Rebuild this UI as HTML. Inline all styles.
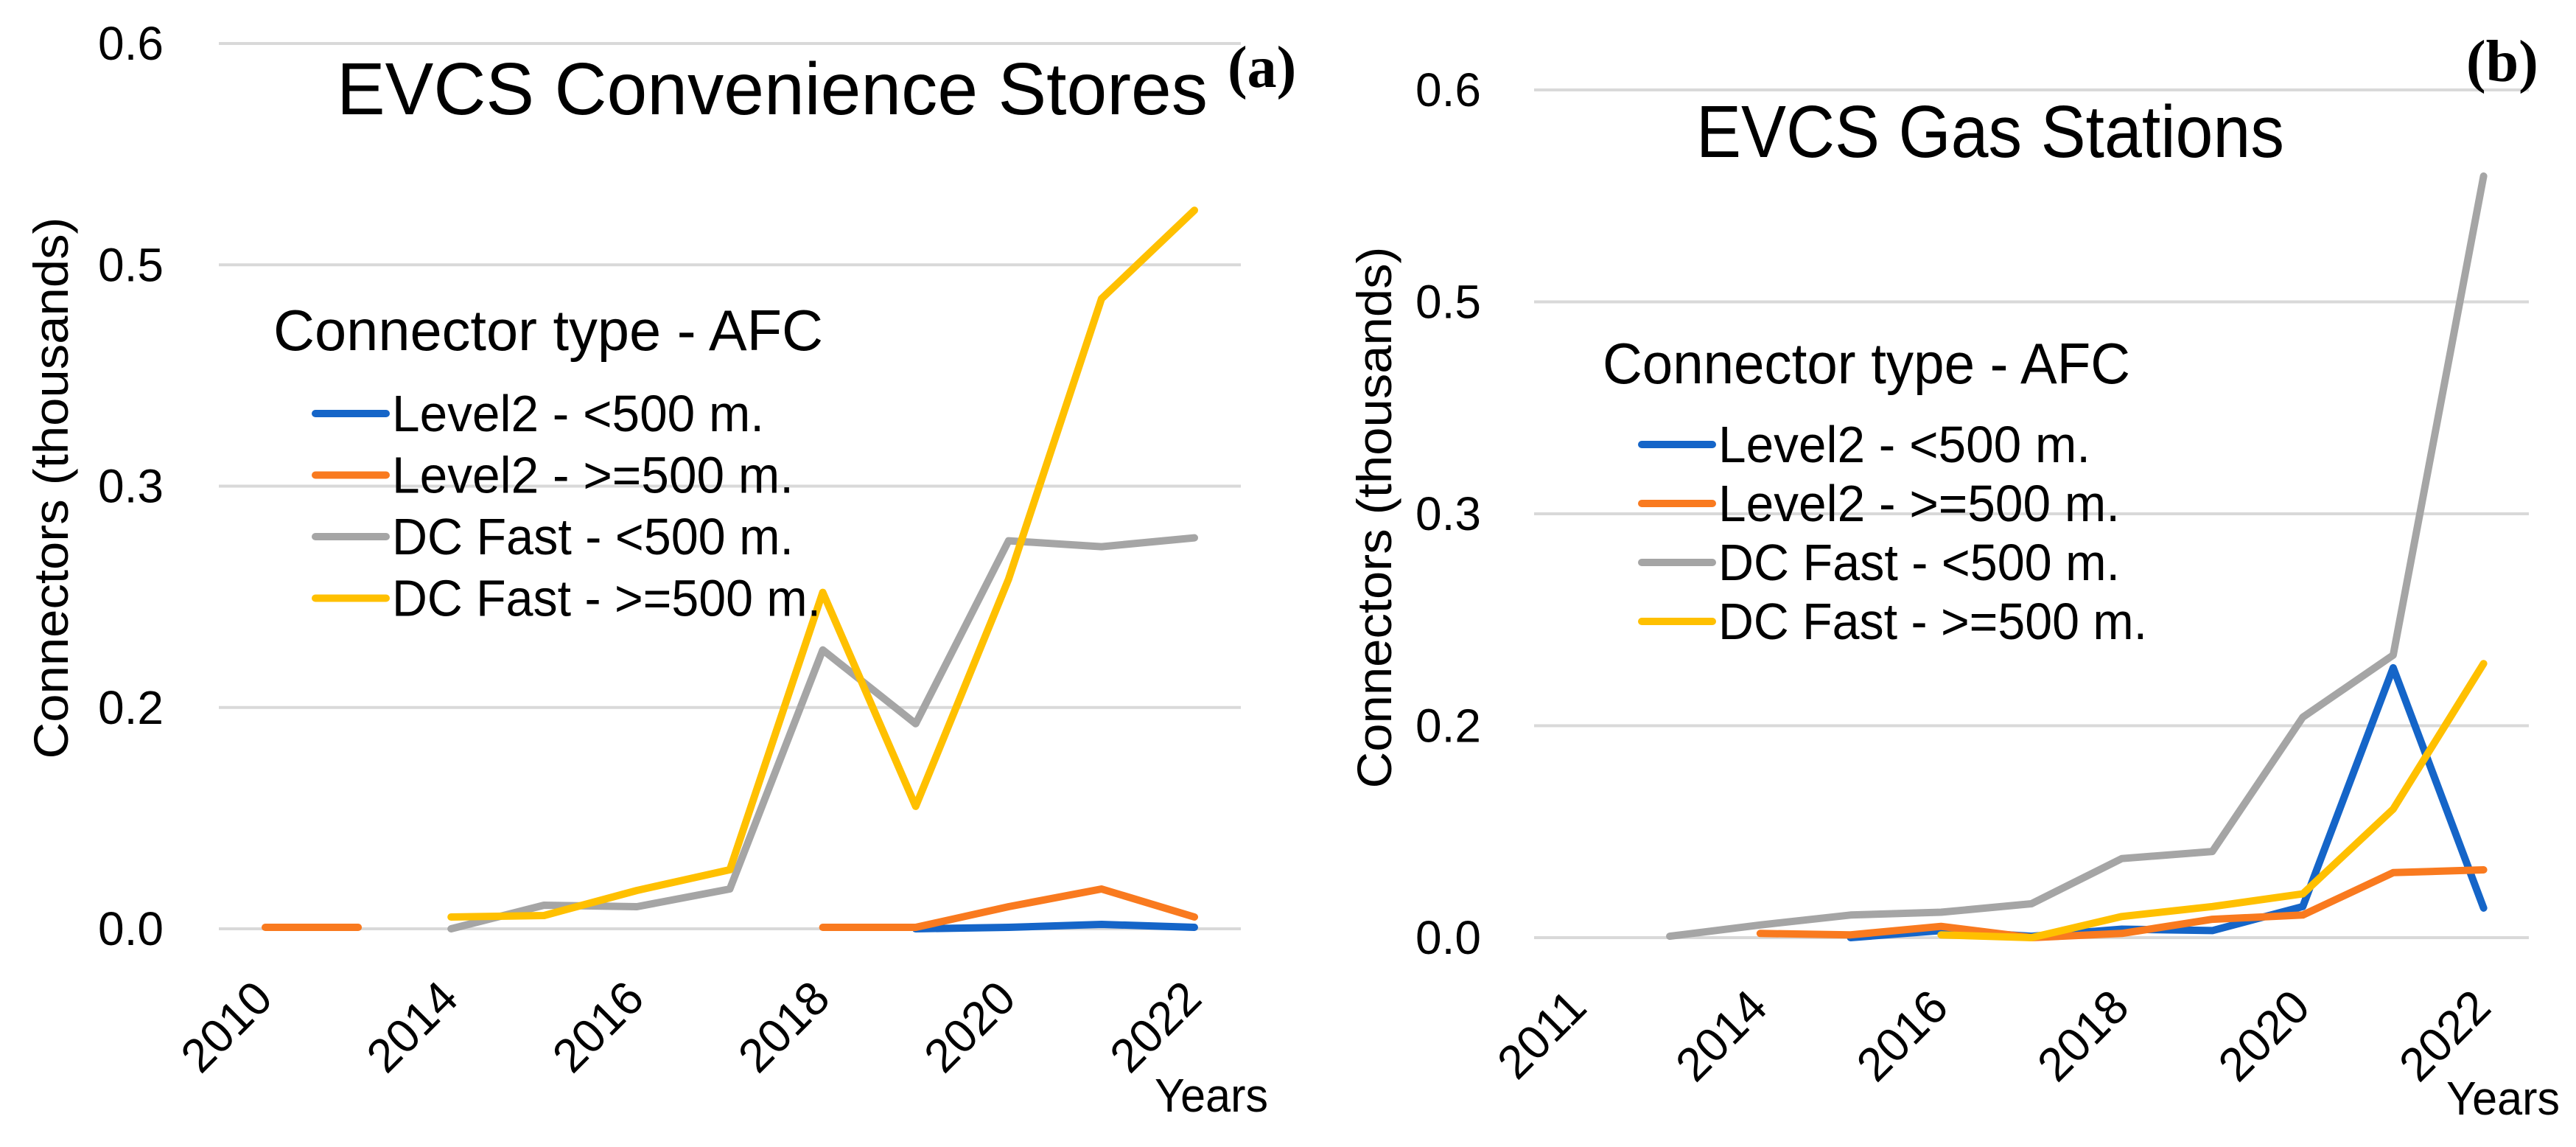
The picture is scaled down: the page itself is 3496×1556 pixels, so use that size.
<!DOCTYPE html>
<html><head><meta charset="utf-8">
<style>
html,body{margin:0;padding:0;background:#fff;}
svg{display:block;}
text{font-family:"Liberation Sans",sans-serif;fill:#000;}
</style></head>
<body>
<svg id="chart" width="3496" height="1556" viewBox="0 0 3496 1556" xmlns="http://www.w3.org/2000/svg"></svg>
<script>
// Shared axis data
const yTicks = [0, 0.15, 0.3, 0.45, 0.6];
const yTickLabels = ["0.0", "0.2", "0.3", "0.5", "0.6"];
const seriesNames = ["Level2 - <500 m.", "Level2 - >=500 m.", "DC Fast - <500 m.", "DC Fast - >=500 m."];
const seriesColors = ["#1565c8", "#f97a1f", "#a5a5a5", "#ffc000"];

// Panel (a) data
const catsA = ["2010","2013","2014","2015","2016","2017","2018","2019","2020","2021","2022"];
const catLabelsA = ["2010","","2014","","2016","","2018","","2020","","2022"];
const aLevel2Near = [null,null,null,null,null,null,null,0,0.001,0.003,0.001];
const aLevel2Far  = [0.001,0.001,null,null,null,null,0.001,0.001,0.015,0.027,0.008];
const aDCNear     = [null,null,0,0.016,0.015,0.027,0.189,0.139,0.263,0.259,0.265];
const aDCFar      = [null,null,0.008,0.009,0.026,0.040,0.228,0.083,0.237,0.427,0.487];

// Panel (b) data
const catsB = ["2011","2013","2014","2015","2016","2017","2018","2019","2020","2021","2022"];
const catLabelsB = ["2011","","2014","","2016","","2018","","2020","","2022"];
const bLevel2Near = [null,null,null,0,0.005,0.001,0.006,0.005,0.022,0.191,0.021];
const bLevel2Far  = [null,null,0.003,0.002,0.008,0,0.003,0.013,0.016,0.046,0.048];
const bDCNear     = [null,0.001,0.009,0.016,0.018,0.024,0.056,0.061,0.156,0.200,0.539];
const bDCFar      = [null,null,null,null,0.002,0,0.015,0.022,0.031,0.091,0.194];

const NS = "http://www.w3.org/2000/svg";
const svg = document.getElementById("chart");
function mk(tag, attrs, parent, txt){
  const e = document.createElementNS(NS, tag);
  for (const k in attrs) e.setAttribute(k, attrs[k]);
  if (txt !== undefined) e.textContent = txt;
  (parent || svg).appendChild(e);
  return e;
}

function panel(p){
  const g = mk("g", {});
  
  
  const n = p.cats.length;
  const bw = (p.x1 - p.x0) / n;
  const xs = i => p.x0 + bw * (i + 0.5);
  const ys = v => p.y0 - (v / 0.6) * (p.y0 - p.yTop);

  yTicks.forEach((t, i) => {
    const gl = mk("line", {x1:p.x0, x2:p.x1, y1:ys(t), y2:ys(t), stroke:"#d9d9d9", "stroke-width":4}, g);
    
    
    const tl = mk("text", {x:p.tickX, y:ys(t) + 22, "text-anchor":"end", "font-size":64}, g, yTickLabels[i]);
    
    
  });

  p.catLabels.forEach((lab, i) => {
    if (!lab) return;
    const cx = xs(i) + 13, cy = p.y0 + 98;
    const t = mk("text", {x:cx, y:cy, "text-anchor":"end", "font-size":64, transform:`rotate(-45 ${cx} ${cy})`}, g, lab);
    
    
  });

  p.series.forEach((s, si) => {
    let d = "", pen = false;
    s.forEach((v, i) => {
      if (v === null) { pen = false; return; }
      d += (pen ? "L" : "M") + xs(i).toFixed(1) + " " + ys(v).toFixed(1) + " ";
      pen = true;
    });
    const path = mk("path", {d:d, fill:"none", stroke:seriesColors[si], "stroke-width":10, "stroke-linejoin":"round", "stroke-linecap":"round"}, g);
    
    
  });

  const title = mk("text", {x:p.titleX, y:p.titleY, "font-size":100, textLength:p.titleW, lengthAdjust:"spacingAndGlyphs"}, g, p.title);
  
  
  const lab = mk("text", {x:p.labX, y:p.labY, "font-size":80, "font-weight":"bold", style:"font-family:'Liberation Serif',serif"}, g, p.label);
  
  

  const yt = mk("text", {x:p.yTitleX, y:p.yTitleY, "font-size":66, "text-anchor":"middle", transform:`rotate(-90 ${p.yTitleX} ${p.yTitleY})`, textLength:735, lengthAdjust:"spacingAndGlyphs"}, g, "Connectors  (thousands)");
  
  
  const xt = mk("text", {x:p.yearsX, y:p.yearsY, "font-size":64, textLength:154, lengthAdjust:"spacingAndGlyphs"}, g, "Years");
  
  

  const lg = mk("g", {}, g);
  
  
  const lt = mk("text", {x:p.legX, y:p.legY, "font-size":78, textLength:p.legW, lengthAdjust:"spacingAndGlyphs"}, lg, "Connector type - AFC");
  
  
  seriesNames.forEach((nm, i) => {
    const by = p.entY + i * p.entStep;
    const ln = mk("line", {x1:p.entX, x2:p.entX + 96, y1:by - 24, y2:by - 24, stroke:seriesColors[i], "stroke-width":10, "stroke-linecap":"round"}, lg);
    
    
    const tx = mk("text", {x:p.entX + 104, y:by, "font-size":70, textLength:[505,545,545,582][i], lengthAdjust:"spacingAndGlyphs"}, lg, nm);
    
    
  });
}

panel({name:"chart-convenience-stores", cats:catsA, catLabels:catLabelsA,
  series:[aLevel2Near, aLevel2Far, aDCNear, aDCFar],
  x0:297, x1:1684, y0:1260, yTop:59, tickX:222,
  title:"EVCS Convenience Stores", titleX:457, titleY:155, titleW:1182,
  label:"(a)", labX:1666, labY:118,
  yTitleX:92, yTitleY:662, yearsX:1567, yearsY:1508,
  legX:371, legY:475, legW:746, entX:428, entY:585, entStep:83.5});

panel({name:"chart-gas-stations", cats:catsB, catLabels:catLabelsB,
  series:[bLevel2Near, bLevel2Far, bDCNear, bDCFar],
  x0:2082, x1:3432, y0:1272, yTop:122, tickX:2010,
  title:"EVCS Gas Stations", titleX:2302, titleY:213, titleW:798,
  label:"(b)", labX:3347, labY:110,
  yTitleX:1888, yTitleY:702, yearsX:3320, yearsY:1512,
  legX:2175, legY:520, legW:716, entX:2228, entY:627, entStep:80});
</script>
</body></html>
